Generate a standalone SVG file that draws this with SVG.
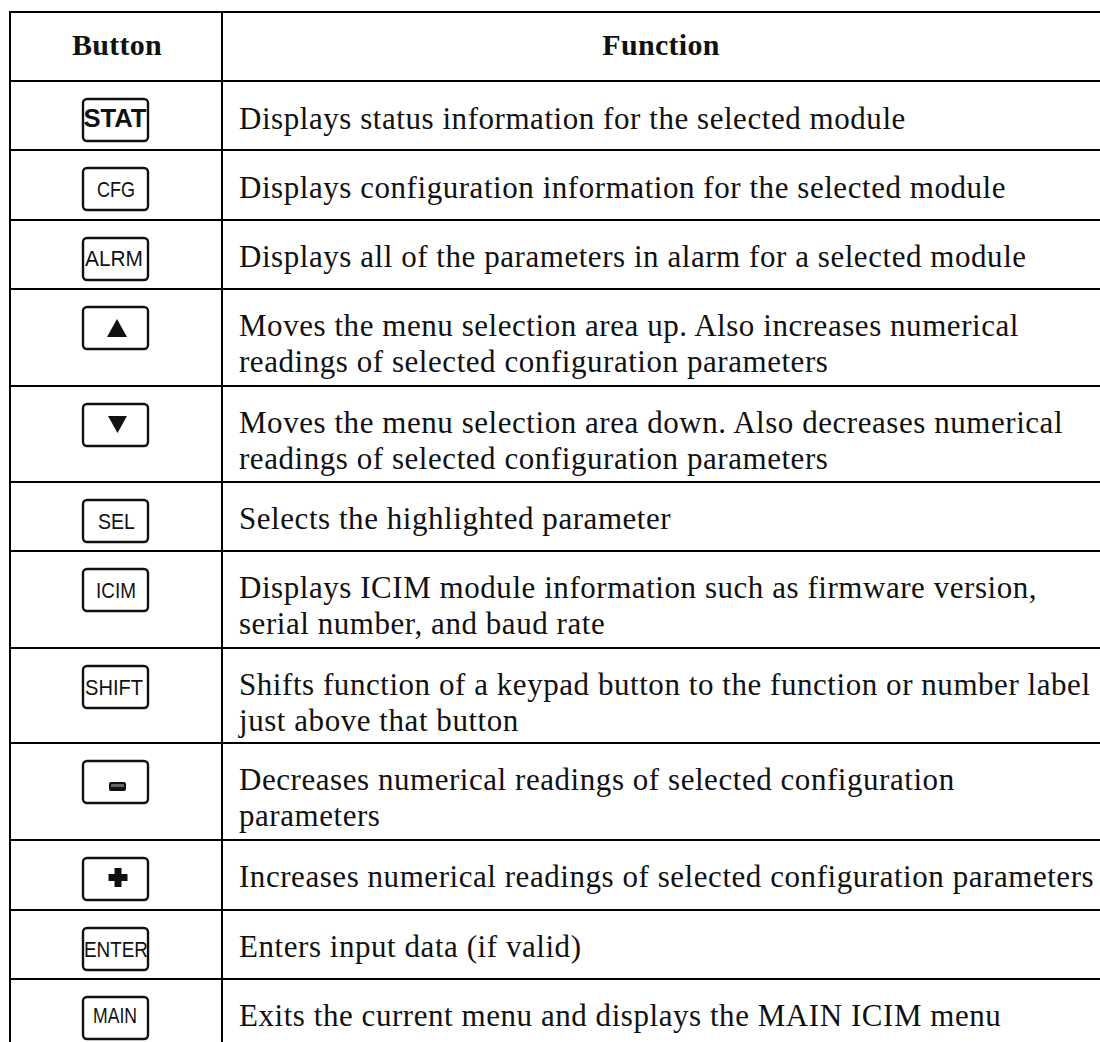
<svg xmlns="http://www.w3.org/2000/svg" width="1100" height="1042" viewBox="0 0 1100 1042">
<style>
.grid{stroke:#000;stroke-width:2;fill:none}
.btn{fill:#fff;stroke:#111;stroke-width:2.4}
.lbl{font-family:"Liberation Sans",Arial,sans-serif;font-size:22px;fill:#111;text-anchor:middle}
.lblb{font-family:"Liberation Sans",Arial,sans-serif;font-size:26px;font-weight:bold;fill:#111;text-anchor:middle}
.txt{font-family:"Liberation Serif","Times New Roman",serif;font-size:31px;letter-spacing:0.55px;fill:#111}
.hdr{font-family:"Liberation Serif","Times New Roman",serif;font-size:30px;font-weight:bold;letter-spacing:0.3px;fill:#111;text-anchor:middle}
.glyph{fill:#111}
</style>
<rect width="1100" height="1042" fill="#fff"/>
<g id="grid">
<line class="grid" x1="10" y1="12" x2="1100" y2="12"/>
<line class="grid" x1="10" y1="81" x2="1100" y2="81"/>
<line class="grid" x1="10" y1="150" x2="1100" y2="150"/>
<line class="grid" x1="10" y1="220" x2="1100" y2="220"/>
<line class="grid" x1="10" y1="289" x2="1100" y2="289"/>
<line class="grid" x1="10" y1="386" x2="1100" y2="386"/>
<line class="grid" x1="10" y1="482" x2="1100" y2="482"/>
<line class="grid" x1="10" y1="551" x2="1100" y2="551"/>
<line class="grid" x1="10" y1="648" x2="1100" y2="648"/>
<line class="grid" x1="10" y1="743" x2="1100" y2="743"/>
<line class="grid" x1="10" y1="840" x2="1100" y2="840"/>
<line class="grid" x1="10" y1="910" x2="1100" y2="910"/>
<line class="grid" x1="10" y1="979" x2="1100" y2="979"/>
<line class="grid" x1="10" y1="11" x2="10" y2="1042"/>
<line class="grid" x1="222" y1="12" x2="222" y2="1042"/>
</g>
<g id="header">
<text class="hdr" x="117" y="55">Button</text>
<text class="hdr" x="661" y="55">Function</text>
</g>
<g id="row-stat">
<rect class="btn" x="83" y="99" width="65" height="42" rx="4"/>
<text class="lblb" x="115" y="127" textLength="63" lengthAdjust="spacingAndGlyphs">STAT</text>
<text class="txt" x="239" y="129">Displays status information for the selected module</text>
</g>
<g id="row-cfg">
<rect class="btn" x="83" y="168" width="65" height="42" rx="4"/>
<text class="lbl" x="116" y="197" textLength="38" lengthAdjust="spacingAndGlyphs">CFG</text>
<text class="txt" x="239" y="198">Displays configuration information for the selected module</text>
</g>
<g id="row-alrm">
<rect class="btn" x="83" y="238" width="65" height="42" rx="4"/>
<text class="lbl" x="114" y="266" textLength="58" lengthAdjust="spacingAndGlyphs">ALRM</text>
<text class="txt" x="239" y="267">Displays all of the parameters in alarm for a selected module</text>
</g>
<g id="row-up">
<rect class="btn" x="83" y="307" width="65" height="42" rx="4"/>
<polygon class="glyph" points="117,319 107,337 127,337"/>
<text class="txt" x="239" y="336">Moves the menu selection area up. Also increases numerical</text>
<text class="txt" x="239" y="372">readings of selected configuration parameters</text>
</g>
<g id="row-down">
<rect class="btn" x="83" y="404" width="65" height="42" rx="4"/>
<polygon class="glyph" points="108,416 127,416 117.5,433"/>
<text class="txt" x="239" y="433">Moves the menu selection area down. Also decreases numerical</text>
<text class="txt" x="239" y="469">readings of selected configuration parameters</text>
</g>
<g id="row-sel">
<rect class="btn" x="83" y="500" width="65" height="42" rx="4"/>
<text class="lbl" x="116.5" y="529" textLength="37" lengthAdjust="spacingAndGlyphs">SEL</text>
<text class="txt" x="239" y="529">Selects the highlighted parameter</text>
</g>
<g id="row-icim">
<rect class="btn" x="83" y="569" width="65" height="42" rx="4"/>
<text class="lbl" x="116" y="598" textLength="40" lengthAdjust="spacingAndGlyphs">ICIM</text>
<text class="txt" x="239" y="598">Displays ICIM module information such as firmware version,</text>
<text class="txt" x="239" y="634">serial number, and baud rate</text>
</g>
<g id="row-shift">
<rect class="btn" x="83" y="666" width="65" height="42" rx="4"/>
<text class="lbl" x="114" y="695" textLength="58" lengthAdjust="spacingAndGlyphs">SHIFT</text>
<text class="txt" x="239" y="695">Shifts function of a keypad button to the function or number label</text>
<text class="txt" x="239" y="731">just above that button</text>
</g>
<g id="row-minus">
<rect class="btn" x="83" y="761" width="65" height="42" rx="4"/>
<rect x="109" y="782" width="17" height="9" rx="2" fill="#111"/>
<rect x="111" y="784" width="13" height="3" fill="#666"/>
<text class="txt" x="239" y="790">Decreases numerical readings of selected configuration</text>
<text class="txt" x="239" y="826">parameters</text>
</g>
<g id="row-plus">
<rect class="btn" x="83" y="858" width="65" height="42" rx="4"/>
<path class="glyph" d="M114.5 868h7v6h6v7h-6v6h-7v-6h-6v-7h6z"/>
<text class="txt" x="239" y="887">Increases numerical readings of selected configuration parameters</text>
</g>
<g id="row-enter">
<rect class="btn" x="83" y="928" width="65" height="42" rx="4"/>
<text class="lbl" x="116" y="957" textLength="64" lengthAdjust="spacingAndGlyphs">ENTER</text>
<text class="txt" x="239" y="957">Enters input data (if valid)</text>
</g>
<g id="row-main">
<rect class="btn" x="83" y="997" width="65" height="42" rx="4"/>
<text class="lbl" x="115" y="1023" textLength="44" lengthAdjust="spacingAndGlyphs">MAIN</text>
<text class="txt" x="239" y="1026">Exits the current menu and displays the MAIN ICIM menu</text>
</g>
</svg>
